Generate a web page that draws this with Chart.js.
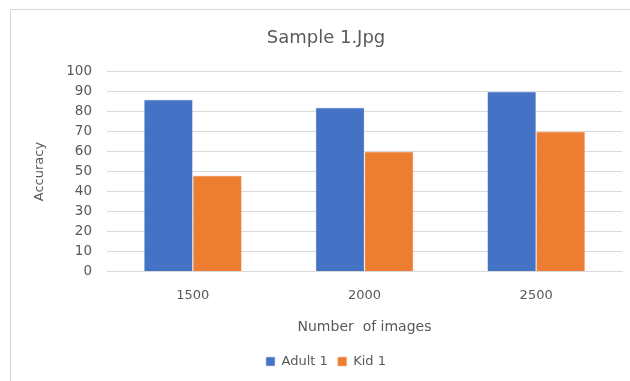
<!DOCTYPE html>
<html>
<head>
<meta charset="utf-8">
<script src="https://cdn.jsdelivr.net/npm/chart.js@4/dist/chart.umd.min.js"></script>
<style>
  html, body { margin: 0; padding: 0; background: #fff; }
  #wrap { position: relative; width: 630px; height: 381px; }
</style>
</head>
<body>
<div id="wrap"><canvas id="c" width="630" height="381"></canvas></div>
<script>
// Image counts on the x axis
const categories = ['1500', '2000', '2500'];
// Accuracy per training-set size
const adultValues = [86, 82, 90];
const kidValues = [48, 60, 70];
const seriesNames = ['Adult 1', 'Kid 1'];
const yTicks = [0, 10, 20, 30, 40, 50, 60, 70, 80, 90, 100];

const textColor = '#595959';
const fontFamily = '"DejaVu Sans", "Liberation Sans", sans-serif';

// Thin frame around the chart (left and top edges visible)
const framePlugin = {
  id: 'frame',
  beforeDraw(chart) {
    const ctx = chart.ctx;
    ctx.save();
    ctx.fillStyle = '#ffffff';
    ctx.fillRect(0, 0, chart.width, chart.height);
    ctx.strokeStyle = '#d9d9d9';
    ctx.lineWidth = 1;
    ctx.beginPath();
    ctx.moveTo(10.5, chart.height + 2);
    ctx.lineTo(10.5, 9.5);
    ctx.lineTo(chart.width + 2, 9.5);
    ctx.stroke();
    ctx.restore();
  }
};

new Chart(document.getElementById('c'), {
  type: 'bar',
  data: {
    labels: categories,
    datasets: [
      { label: seriesNames[0], data: adultValues, backgroundColor: '#4472C4',
        borderColor: '#c9d6ee', borderWidth: 0.6 },
      { label: seriesNames[1], data: kidValues, backgroundColor: '#ED7D31',
        borderColor: '#f6c7a6', borderWidth: 0.6 }
    ]
  },
  options: {
    responsive: false,
    animation: false,
    devicePixelRatio: 1,
    layout: { padding: { left: 30, right: 8, top: 24, bottom: 3 } },
    datasets: { bar: { categoryPercentage: 0.57, barPercentage: 1.0 } },
    plugins: {
      title: {
        display: true,
        text: 'Sample 1.Jpg',
        color: textColor,
        font: { family: fontFamily, size: 18, weight: 'normal' },
        padding: { top: 4, bottom: 22 }
      },
      legend: {
        position: 'bottom',
        labels: {
          color: textColor,
          font: { family: fontFamily, size: 13 },
          boxWidth: 9,
          boxHeight: 9,
          padding: 10
        }
      },
      tooltip: { enabled: false }
    },
    scales: {
      x: {
        grid: { display: false, drawTicks: false },
        border: { display: true, color: '#d9d9d9' },
        ticks: { color: textColor, font: { family: fontFamily, size: 13 }, padding: 16 },
        title: {
          display: true,
          text: 'Number  of images',
          color: textColor,
          font: { family: fontFamily, size: 14 },
          padding: { top: 0, bottom: 9 }
        }
      },
      y: {
        min: 0,
        max: 100,
        afterBuildTicks(scale) { scale.ticks = yTicks.map(v => ({ value: v })); },
        afterFit(scale) { scale.width = 77; },
        grid: { color: '#d9d9d9', drawTicks: false, lineWidth: 1 },
        border: { display: false },
        ticks: { color: textColor, font: { family: fontFamily, size: 13.5 }, padding: 15 },
        title: {
          display: true,
          text: 'Accuracy',
          color: textColor,
          font: { family: fontFamily, size: 13 },
          padding: { top: 2, bottom: 0 }
        }
      }
    }
  },
  plugins: [framePlugin]
});
</script>
</body>
</html>
